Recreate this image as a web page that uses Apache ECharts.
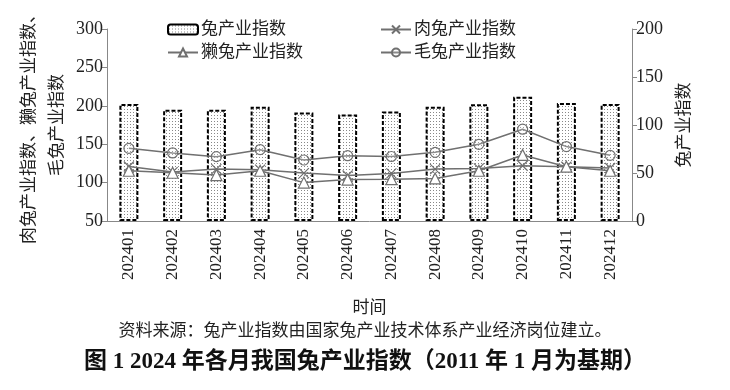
<!DOCTYPE html>
<html>
<head>
<meta charset="utf-8">
<script src="https://cdn.jsdelivr.net/npm/echarts@6/dist/echarts.min.js"></script>
<style>
html,body{margin:0;padding:0;background:#fff;}
#main{width:730px;height:390px;}
</style>
</head>
<body>
<div id="main"></div>
<script>
var categories = ['202401','202402','202403','202404','202405','202406','202407','202408','202409','202410','202411','202412'];
var rabbitIndex = [122, 116, 116, 119, 113, 111, 114, 119, 121.5, 129.5, 123, 122];
var meatIndex = [121, 113.7, 117.6, 116.8, 112.4, 109.3, 112, 117.6, 118.5, 122, 120.7, 119];
var rexIndex = [115.4, 112.8, 109.8, 115.4, 100, 104, 104.5, 105.4, 115.4, 136, 120.7, 115.4];
var woolIndex = [144.6, 138.6, 133.8, 142.9, 129.4, 135, 134, 139.4, 149.9, 169.5, 146.9, 135.5];
var leftTicks = [50, 300, 50];
var rightTicks = [0, 200, 50];

var SERIF = '"Liberation Serif","Noto Sans CJK SC",serif';
var pat = document.createElement('canvas');
pat.width = 3; pat.height = 3;
var pc = pat.getContext('2d');
pc.fillStyle = '#fff'; pc.fillRect(0,0,3,3);
pc.fillStyle = '#888'; pc.fillRect(1,1,1,1);

var chart = echarts.init(document.getElementById('main'));
var lineColor = '#707070';
var xPath = 'path://M0,0L10,10M10,0L0,10';
function legendOf(name, left, top){
  return {data:[name], left:left, top:top, padding:0, itemWidth:30, itemHeight:10, itemGap:0,
    textStyle:{fontFamily:SERIF, fontSize:17, color:'#222', padding:[0,0,0,-2]}};
}
chart.setOption({
  animation:false,
  textStyle:{fontFamily:SERIF},
  title:[
    {text:'资料来源：兔产业指数由国家兔产业技术体系产业经济岗位建立。', left:'center', top:323, padding:0,
      textStyle:{fontFamily:SERIF, fontSize:17, fontWeight:'normal', color:'#222'}},
    {text:'图 1 2024 年各月我国兔产业指数（2011 年 1 月为基期）', left:'center', top:351, padding:0,
      textStyle:{fontFamily:SERIF, fontSize:23, fontWeight:'bold', color:'#111'}}
  ],
  legend:[
    legendOf('兔产业指数', 167, 21),
    legendOf('肉兔产业指数', 380, 21),
    legendOf('獭兔产业指数', 167, 44),
    legendOf('毛兔产业指数', 380, 44)
  ],
  grid:{left:107, right:98, top:29, bottom:169, outerBoundsMode:'none', containLabel:false},
  xAxis:{type:'category', data:categories,
    name:'时间', nameLocation:'middle', nameGap:79,
    nameTextStyle:{fontFamily:SERIF, fontSize:17, color:'#222'},
    axisLine:{lineStyle:{color:'#888'}},
    axisTick:{lineStyle:{color:'#888'}},
    axisLabel:{rotate:90, fontFamily:SERIF, fontSize:17, color:'#222', margin:8}
  },
  yAxis:[
    {type:'value', min:leftTicks[0], max:leftTicks[1], interval:leftTicks[2],
      name:'肉兔产业指数、獭兔产业指数、\n毛兔产业指数', nameLocation:'middle', nameRotate:90, nameGap:35,
      nameMoveOverlap:false,
      nameTextStyle:{fontFamily:SERIF, fontSize:17, color:'#222', lineHeight:28},
      axisLine:{show:true, lineStyle:{color:'#888'}},
      axisTick:{show:true, lineStyle:{color:'#888'}},
      splitLine:{show:false},
      axisLabel:{fontFamily:SERIF, fontSize:18, color:'#222', margin:4}
    },
    {type:'value', min:rightTicks[0], max:rightTicks[1], interval:rightTicks[2],
      name:'兔产业指数', nameLocation:'middle', nameRotate:90, nameGap:44,
      nameTextStyle:{fontFamily:SERIF, fontSize:17, color:'#222'},
      axisLine:{show:true, lineStyle:{color:'#888'}},
      axisTick:{show:true, lineStyle:{color:'#888'}},
      splitLine:{show:false},
      axisLabel:{fontFamily:SERIF, fontSize:18, color:'#222', margin:4}
    }
  ],
  series:[
    {name:'兔产业指数', type:'bar', yAxisIndex:1, data:rabbitIndex, barWidth:19,
      itemStyle:{color:{image:pat, repeat:'repeat'}, borderColor:'#000', borderWidth:2, borderType:[4,2]}},
    {name:'肉兔产业指数', type:'line', yAxisIndex:0, data:meatIndex, symbol:xPath, symbolSize:10,
      lineStyle:{color:lineColor, width:1.5}, itemStyle:{color:'rgba(0,0,0,0)', borderColor:lineColor, borderWidth:1.2}},
    {name:'獭兔产业指数', type:'line', yAxisIndex:0, data:rexIndex, symbol:'triangle', symbolSize:11,
      lineStyle:{color:lineColor, width:1.5}, itemStyle:{color:'#fff', borderColor:lineColor, borderWidth:1.2}},
    {name:'毛兔产业指数', type:'line', yAxisIndex:0, data:woolIndex, symbol:'circle', symbolSize:10,
      lineStyle:{color:lineColor, width:1.5}, itemStyle:{color:'rgba(255,255,255,0.2)', borderColor:lineColor, borderWidth:1.2}}
  ]
});
</script>
</body>
</html>
